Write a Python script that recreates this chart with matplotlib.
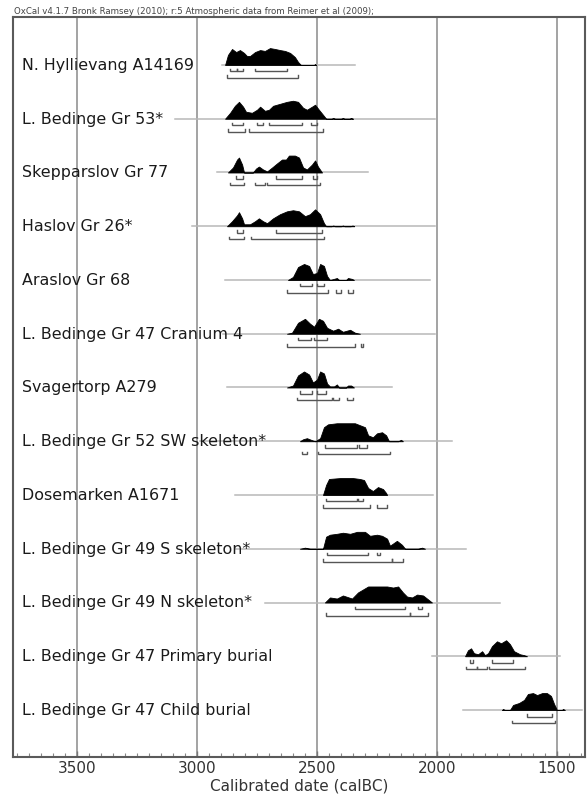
import matplotlib
matplotlib.use("Agg")
import matplotlib.pyplot as plt
from matplotlib.ticker import MultipleLocator
from matplotlib.transforms import blended_transform_factory

# ---------------------------------------------------------------
# Samples (top to bottom)
# ---------------------------------------------------------------
labels = [
    "N. Hyllievang A14169",
    "L. Bedinge Gr 53*",
    "Skepparslov Gr 77",
    "Haslov Gr 26*",
    "Araslov Gr 68",
    "L. Bedinge Gr 47 Cranium 4",
    "Svagertorp A279",
    "L. Bedinge Gr 52 SW skeleton*",
    "Dosemarken A1671",
    "L. Bedinge Gr 49 S skeleton*",
    "L. Bedinge Gr 49 N skeleton*",
    "L. Bedinge Gr 47 Primary burial",
    "L. Bedinge Gr 47 Child burial",
]

# Calibrated probability: year (cal BC) and relative density (% of peak)
yr_hyllievang = [2883, 2871, 2854, 2837, 2821, 2804, 2792, 2779, 2758, 2737, 2717, 2696, 2675,
                 2654, 2633, 2612, 2592, 2579, 2567, 2512, 2508, 2504]
pr_hyllievang = [0, 56, 89, 72, 83, 67, 50, 50, 72, 83, 78, 94, 89, 83, 78, 67, 44, 17, 0, 0, 6, 0]

yr_bedinge53 = [2883, 2862, 2842, 2825, 2808, 2796, 2771, 2750, 2737, 2717, 2700, 2683, 2654,
                2625, 2600, 2579, 2558, 2542, 2521, 2508, 2492, 2475, 2462,
                2440, 2432, 2425, 2400, 2392, 2385, 2365, 2358, 2350]
pr_bedinge53 = [0, 33, 72, 94, 67, 39, 33, 50, 67, 44, 50, 72, 83, 94, 100, 94, 61, 50, 67, 78,
                50, 22, 0, 0, 4, 0, 0, 4, 0, 0, 4, 0]

yr_skepparslov = [2871, 2850, 2833, 2825, 2812, 2804, 2767, 2754, 2742, 2725, 2708, 2687, 2667,
                  2646, 2629, 2617, 2592, 2575, 2558, 2542, 2521, 2508, 2496, 2479]
pr_skepparslov = [0, 28, 72, 83, 44, 0, 0, 22, 33, 17, 6, 28, 50, 72, 72, 94, 94, 83, 28, 17,
                  44, 67, 33, 0]

yr_haslov = [2875, 2854, 2833, 2825, 2812, 2804, 2779, 2758, 2742, 2725, 2708, 2683, 2654, 2625,
             2600, 2575, 2550, 2529, 2508, 2487, 2471, 2462,
             2440, 2432, 2425, 2400, 2392, 2385, 2360, 2352, 2345]
pr_haslov = [0, 28, 61, 78, 44, 11, 11, 28, 44, 28, 17, 44, 67, 83, 89, 83, 56, 67, 94, 67, 17, 0,
             0, 4, 0, 0, 4, 0, 0, 4, 0]

yr_araslov = [2621, 2600, 2579, 2554, 2533, 2517, 2500, 2487, 2471, 2458, 2446, 2417, 2408, 2379,
              2371, 2354, 2346]
pr_araslov = [0, 17, 72, 89, 78, 33, 39, 89, 78, 22, 0, 11, 0, 0, 11, 6, 0]

yr_cranium4 = [2625, 2604, 2579, 2550, 2529, 2512, 2492, 2475, 2458, 2433, 2412, 2392, 2362, 2342,
               2321]
pr_cranium4 = [0, 6, 61, 83, 56, 39, 83, 72, 33, 17, 28, 11, 22, 6, 0]

yr_svagertorp = [2625, 2600, 2579, 2554, 2533, 2517, 2500, 2487, 2471, 2458, 2446, 2429, 2417,
                 2408, 2379, 2371, 2358, 2346]
pr_svagertorp = [0, 11, 67, 89, 72, 28, 44, 89, 78, 22, 6, 6, 17, 0, 0, 11, 11, 0]

yr_bedinge52 = [2571, 2558, 2542, 2521, 2508, 2487, 2471, 2454, 2417, 2375, 2342, 2321, 2300, 2287,
                2267, 2250, 2229, 2212, 2200, 2162, 2150, 2142]
pr_bedinge52 = [0, 11, 17, 6, 0, 17, 78, 94, 100, 100, 100, 89, 78, 33, 22, 44, 50, 33, 0, 0, 8, 0]

yr_dosemarken = [2475, 2462, 2450, 2404, 2350, 2321, 2304, 2287, 2267, 2246, 2225, 2212, 2208]
pr_dosemarken = [0, 56, 89, 94, 94, 89, 83, 39, 22, 44, 33, 11, 0]

yr_bedinge49s = [2571, 2550, 2529, 2475, 2462, 2446, 2417, 2392, 2362, 2333, 2300, 2279, 2250,
                 2229, 2208, 2196, 2167, 2146, 2133, 2079, 2062, 2050]
pr_bedinge49s = [0, 6, 0, 0, 67, 78, 83, 89, 83, 94, 94, 72, 78, 72, 56, 17, 44, 22, 0, 0, 6, 0]

yr_bedinge49n = [2467, 2446, 2417, 2392, 2354, 2329, 2287, 2258, 2208, 2183, 2162, 2142, 2125,
                 2104, 2083, 2058, 2037, 2021]
pr_bedinge49n = [0, 28, 22, 39, 22, 56, 89, 89, 89, 83, 89, 56, 33, 28, 44, 39, 17, 0]

yr_primary = [1883, 1871, 1858, 1846, 1829, 1812, 1800, 1787, 1771, 1750, 1733, 1712, 1696, 1679,
              1654, 1637, 1625]
pr_primary = [0, 33, 44, 17, 11, 28, 6, 17, 56, 83, 72, 89, 67, 28, 11, 6, 0]

yr_child = [1729, 1725, 1717, 1696, 1683, 1658, 1637, 1621, 1600, 1583, 1562, 1542, 1525, 1512,
            1500, 1479, 1475, 1467]
pr_child = [0, 6, 0, 0, 28, 39, 56, 89, 94, 83, 94, 94, 78, 33, 0, 0, 6, 0]

# Highest-probability ranges (cal BC): 68.2% and 95.4%
r68_hyllievang = [(2862, 2833), (2833, 2808), (2758, 2625)]
r95_hyllievang = [(2875, 2579)]
r68_bedinge53 = [(2854, 2808), (2750, 2725), (2700, 2562), (2525, 2500)]
r95_bedinge53 = [(2871, 2800), (2783, 2475)]
r68_skepparslov = [(2837, 2808), (2671, 2562), (2517, 2500)]
r95_skepparslov = [(2862, 2804), (2758, 2717), (2708, 2487)]
r68_haslov = [(2833, 2808), (2671, 2479)]
r95_haslov = [(2867, 2804), (2775, 2471)]
r68_araslov = [(2571, 2521), (2500, 2471)]
r95_araslov = [(2625, 2454), (2421, 2400), (2371, 2350)]
r68_cranium4 = [(2579, 2525), (2512, 2458)]
r95_cranium4 = [(2625, 2342), (2317, 2308)]
r68_svagertorp = [(2571, 2521), (2500, 2462)]
r95_svagertorp = [(2583, 2437), (2433, 2408), (2375, 2350)]
r68_bedinge52 = [(2467, 2333), (2325, 2292)]
r95_bedinge52 = [(2562, 2542), (2496, 2196)]
r68_dosemarken = [(2462, 2333), (2329, 2308)]
r95_dosemarken = [(2475, 2279), (2250, 2208)]
r68_bedinge49s = [(2458, 2287), (2250, 2237)]
r95_bedinge49s = [(2475, 2187), (2187, 2142)]
r68_bedinge49n = [(2342, 2133), (2079, 2062)]
r95_bedinge49n = [(2462, 2112), (2112, 2037)]
r68_primary = [(1862, 1850), (1771, 1683)]
r95_primary = [(1879, 1833), (1833, 1792), (1783, 1633)]
r68_child = [(1625, 1521)]
r95_child = [(1687, 1508)]

# Extent of each calibrated distribution (thin grey line)
span_start = [2896, 3092, 2917, 3021, 2883, 2892, 2875, 2987, 2842, 2842, 2717, 2021, 1892]
span_end = [2342, 2008, 2287, 2008, 2029, 2008, 2187, 1937, 2017, 1879, 1737, 1487, 1396]

years = [yr_hyllievang, yr_bedinge53, yr_skepparslov, yr_haslov, yr_araslov, yr_cranium4,
         yr_svagertorp, yr_bedinge52, yr_dosemarken, yr_bedinge49s, yr_bedinge49n,
         yr_primary, yr_child]
probs = [pr_hyllievang, pr_bedinge53, pr_skepparslov, pr_haslov, pr_araslov, pr_cranium4,
         pr_svagertorp, pr_bedinge52, pr_dosemarken, pr_bedinge49s, pr_bedinge49n,
         pr_primary, pr_child]
ranges68 = [r68_hyllievang, r68_bedinge53, r68_skepparslov, r68_haslov, r68_araslov,
            r68_cranium4, r68_svagertorp, r68_bedinge52, r68_dosemarken, r68_bedinge49s,
            r68_bedinge49n, r68_primary, r68_child]
ranges95 = [r95_hyllievang, r95_bedinge53, r95_skepparslov, r95_haslov, r95_araslov,
            r95_cranium4, r95_svagertorp, r95_bedinge52, r95_dosemarken, r95_bedinge49s,
            r95_bedinge49n, r95_primary, r95_child]

major_ticks = [3500, 3000, 2500, 2000, 1500]
header = "OxCal v4.1.7 Bronk Ramsey (2010); r:5 Atmospheric data from Reimer et al (2009);"

# ---------------------------------------------------------------
# Figure
# ---------------------------------------------------------------
W, H = 588, 800
fig = plt.figure(figsize=(W / 100, H / 100), dpi=100)
left_px, right_px, top_px, bottom_px = 13, 585, 17, 757
ax = fig.add_axes([left_px / W, 1 - bottom_px / H,
                   (right_px - left_px) / W, (bottom_px - top_px) / H])

row_px = 53.75          # vertical spacing of rows in pixels
first_px = 65           # baseline of first row
px = 1 / row_px         # one pixel in row units

ax.set_xlim(3766.7, 1383.3)
ax.set_ylim((bottom_px - first_px) / row_px, (top_px - first_px) / row_px)

# vertical grid lines at major ticks
for t in major_ticks:
    ax.axvline(t, color="#9c9c9c", lw=1.3, zorder=1)

peak_px = 18
text_tr = blended_transform_factory(ax.transAxes, ax.transData)

for i, lab in enumerate(labels):
    y0 = i
    ax.plot([span_start[i], span_end[i]], [y0, y0], color="#b8b8b8", lw=1.1, zorder=2)
    top = [y0 - p / 100 * peak_px * px for p in probs[i]]
    ax.fill_between(years[i], y0, top, color="black", lw=0.6, edgecolor="black", zorder=3)

    for ranges, off in ((ranges68[i], 6.5), (ranges95[i], 13.0)):
        yb = y0 + off * px
        for a, b in ranges:
            ax.plot([a, a, b, b], [yb - 2.5 * px, yb, yb, yb - 2.5 * px],
                    color="#555555", lw=1.0, zorder=3, solid_joinstyle="miter")

    ax.text(9 / (right_px - left_px), y0 + 5 * px, lab, transform=text_tr,
            fontsize=11.4, color="#1a1a1a", ha="left", va="baseline", zorder=4,
            family="DejaVu Sans")

# axes styling
for s in ax.spines.values():
    s.set_color("#5a5a5a")
    s.set_linewidth(1.5)

ax.set_yticks([])
ax.set_xticks(major_ticks)
ax.set_xticklabels([str(t) for t in major_ticks])
ax.xaxis.set_minor_locator(MultipleLocator(50))
ax.tick_params(axis="x", which="major", direction="in", length=4, width=1.0,
               color="#777777", labelsize=11, labelcolor="#333333", pad=3)
ax.tick_params(axis="x", which="minor", direction="in", length=3, width=0.8,
               color="#888888")
ax.set_xlabel("Calibrated date (calBC)", fontsize=11, color="#333333", labelpad=2)

fig.text(14 / W, 1 - 12 / H, header, fontsize=6.2, color="#444444", ha="left", va="center")

fig.savefig("out.png", dpi=100)
